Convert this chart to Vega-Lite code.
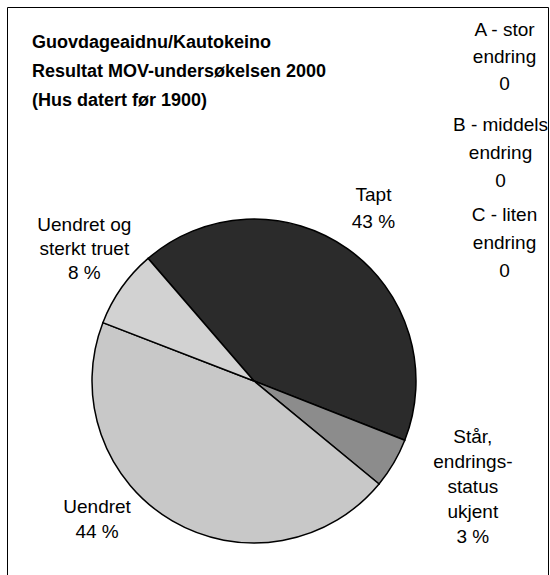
{
  "$schema": "https://vega.github.io/schema/vega-lite/v6.json",
  "width": 541,
  "height": 580,
  "autosize": {"type": "none"},
  "padding": {"left": 7, "top": 7, "right": 2, "bottom": -12},
  "background": "white",
  "view": {"stroke": "black", "strokeWidth": 1},
  "config": {"text": {"font": "Liberation Sans", "color": "black"}},
  "title": {
    "text": ["Guovdageaidnu/Kautokeino", "Resultat MOV-undersøkelsen 2000", "(Hus datert før 1900)"],
    "anchor": "start",
    "frame": "group",
    "orient": "top",
    "baseline": "top",
    "offset": 0,
    "dx": 25,
    "dy": 103,
    "font": "Liberation Sans",
    "fontSize": 18,
    "fontWeight": "bold",
    "lineHeight": 29,
    "color": "black"
  },
  "data": {
    "values": [
      {"name": "Tapt", "rank": 1, "share": 42.3, "label": ["Tapt", "43 %"]},
      {"name": "Står, endringsstatus ukjent", "rank": 2, "share": 5.0, "label": ["Står,", "endrings-", "status", "ukjent", "3 %"]},
      {"name": "Uendret", "rank": 3, "share": 44.9, "label": ["Uendret", "44 %"]},
      {"name": "Uendret og sterkt truet", "rank": 4, "share": 7.8, "label": ["Uendret og", "sterkt truet", "8 %"]},
      {"name": "A - stor endring", "rank": 5, "share": 0, "label": ["A - stor", "endring", "0"]},
      {"name": "B - middels endring", "rank": 6, "share": 0, "label": ["B - middels", "endring", "0"]},
      {"name": "C - liten endring", "rank": 7, "share": 0, "label": ["C - liten", "endring", "0"]}
    ]
  },
  "layer": [
    {
      "transform": [{"filter": "datum.share > 0"}],
      "mark": {"type": "arc", "outerRadius": 162, "stroke": "black", "strokeWidth": 1.5, "xOffset": -23.5, "yOffset": 84},
      "encoding": {
        "theta": {"field": "share", "type": "quantitative", "stack": true, "scale": {"range": [5.571, 11.854]}},
        "order": {"field": "rank", "type": "quantitative"},
        "color": {
          "field": "name", "type": "nominal", "legend": null,
          "scale": {
            "domain": ["Tapt", "Står, endringsstatus ukjent", "Uendret", "Uendret og sterkt truet"],
            "range": ["#2b2b2b", "#8c8c8c", "#c8c8c8", "#d2d2d2"]
          }
        }
      }
    },
    {
      "mark": {"type": "text", "radius": 210, "dx": -25.5, "dy": 69, "fontSize": 19, "lineHeight": 27, "align": "center", "baseline": "middle"},
      "encoding": {
        "theta": {"field": "share", "type": "quantitative", "stack": true},
        "order": {"field": "rank", "type": "quantitative"},
        "text": {"condition": {"test": "datum.name === 'Tapt'", "field": "label"}, "value": ""}
      }
    },
    {
      "mark": {"type": "text", "radius": 240, "dx": -11.5, "dy": 18, "fontSize": 19, "lineHeight": 25, "align": "center", "baseline": "middle"},
      "encoding": {
        "theta": {"field": "share", "type": "quantitative", "stack": true},
        "order": {"field": "rank", "type": "quantitative"},
        "text": {"condition": {"test": "datum.name === 'Står, endringsstatus ukjent'", "field": "label"}, "value": ""}
      }
    },
    {
      "mark": {"type": "text", "radius": 210, "dx": -74.5, "dy": 29, "fontSize": 19, "lineHeight": 25, "align": "center", "baseline": "middle"},
      "encoding": {
        "theta": {"field": "share", "type": "quantitative", "stack": true},
        "order": {"field": "rank", "type": "quantitative"},
        "text": {"condition": {"test": "datum.name === 'Uendret'", "field": "label"}, "value": ""}
      }
    },
    {
      "mark": {"type": "text", "radius": 210, "dx": -21.5, "dy": 49, "fontSize": 19, "lineHeight": 24, "align": "center", "baseline": "middle"},
      "encoding": {
        "theta": {"field": "share", "type": "quantitative", "stack": true},
        "order": {"field": "rank", "type": "quantitative"},
        "text": {"condition": {"test": "datum.name === 'Uendret og sterkt truet'", "field": "label"}, "value": ""}
      }
    },
    {
      "transform": [{"filter": "datum.name === 'A - stor endring'"}],
      "mark": {"type": "text", "dx": 227, "dy": -267, "fontSize": 19, "lineHeight": 27, "align": "center", "baseline": "middle"},
      "encoding": {"text": {"field": "label"}}
    },
    {
      "transform": [{"filter": "datum.name === 'B - middels endring'"}],
      "mark": {"type": "text", "dx": 223, "dy": -172, "fontSize": 19, "lineHeight": 28, "align": "center", "baseline": "middle"},
      "encoding": {"text": {"field": "label"}}
    },
    {
      "transform": [{"filter": "datum.name === 'C - liten endring'"}],
      "mark": {"type": "text", "dx": 227, "dy": -82, "fontSize": 19, "lineHeight": 28, "align": "center", "baseline": "middle"},
      "encoding": {"text": {"field": "label"}}
    }
  ]
}
